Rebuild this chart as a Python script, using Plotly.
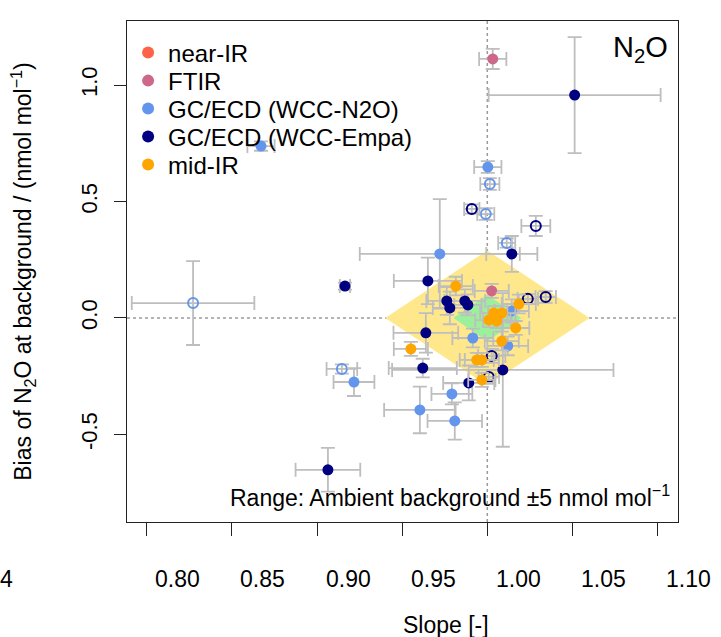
import plotly.graph_objects as go

# ---------------- data ----------------
# FTIR (filled)
ftir_x = [1.0032, 1.0026]
ftir_y = [1.112, 0.116]
ftir_xe = [0.008, 0.010]
ftir_ye = [0.043, 0.030]

# GC/ECD (WCC-N2O) filled
n2o_x = [0.8671, 1.0003, 0.9721, 1.0144, 0.9915, 1.0120, 0.9217, 0.9792, 0.9604, 0.9809]
n2o_y = [0.738, 0.648, 0.275, 0.030, -0.086, -0.120, -0.275, -0.326, -0.395, -0.442]
n2o_xe = [0.008, 0.008, 0.047, 0.010, 0.012, 0.012, 0.012, 0.012, 0.021, 0.016]
n2o_ye = [0.020, 0.025, 0.235, 0.050, 0.040, 0.040, 0.060, 0.045, 0.100, 0.080]

# GC/ECD (WCC-N2O) open
n2o_open_x = [0.8272, 1.0015, 0.9991, 1.0114, 0.9146]
n2o_open_y = [0.064, 0.575, 0.446, 0.322, -0.219]
n2o_open_xe = [0.036, 0.0056, 0.005, 0.005, 0.009]
n2o_open_ye = [0.180, 0.025, 0.025, 0.020, 0.020]

# GC/ECD (WCC-Empa) filled
empa_x = [1.0513, 1.0144, 0.9651, 0.9164, 0.9762, 0.9780, 0.9868, 0.9886,
          0.9639, 0.9621, 1.0091, 0.9891, 0.9064]
empa_y = [0.957, 0.275, 0.159, 0.137, 0.073, 0.043, 0.073, 0.056,
          -0.064, -0.215, -0.223, -0.279, -0.652]
empa_xe = [0.0505, 0.015, 0.020, 0.003, 0.012, 0.010, 0.012, 0.008,
           0.019, 0.020, 0.065, 0.015, 0.019]
empa_ye = [0.249, 0.077, 0.100, 0.015, 0.060, 0.070, 0.050, 0.045,
           0.085, 0.040, 0.330, 0.075, 0.094]

# GC/ECD (WCC-Empa) open
empa_open_x = [0.9909, 1.0285, 1.0238, 1.0343, 1.0026, 1.0009]
empa_open_y = [0.468, 0.395, 0.082, 0.090, -0.163, -0.253]
empa_open_xe = [0.0045, 0.0085, 0.006, 0.006, 0.008, 0.006]
empa_open_ye = [0.020, 0.043, 0.020, 0.025, 0.030, 0.030]

# mid-IR
mir_x = [0.9815, 1.0185, 1.0038, 1.0085, 1.0009, 1.0056, 1.0167, 1.0085,
         0.9551, 0.9938, 0.9968, 0.9968]
mir_y = [0.137, 0.060, 0.021, 0.021, -0.009, -0.013, -0.043, -0.099,
         -0.133, -0.180, -0.180, -0.266]
mir_xe = [0.010, 0.010, 0.008, 0.008, 0.008, 0.008, 0.008, 0.010,
          0.010, 0.010, 0.010, 0.008]
mir_ye = [0.040, 0.040, 0.030, 0.030, 0.030, 0.030, 0.030, 0.040,
          0.030, 0.030, 0.030, 0.030]

# compatibility goal regions (slope tolerance, bias tolerance)
extended_goal = (0.06, 0.29)
strict_goal = (0.02, 0.10)

x_ticks = [0.80, 0.85, 0.90, 0.95, 1.00, 1.05, 1.10]
x_tick_text = ["0.80", "0.85", "0.90", "0.95", "1.00", "1.05", "1.10"]
y_ticks = [-0.5, 0.0, 0.5, 1.0]
y_tick_text = ["-0.5", "0.0", "0.5", "1.0"]

X_RANGE = [0.7884, 1.112]
Y_RANGE = [-0.876, 1.275]

# ---------------- styles ----------------
C_NIR = "#FF6347"
C_FTIR = "#CD6889"
C_N2O = "#6495ED"
C_EMPA = "#000080"
C_MIR = "#FFA500"
C_ERR = "#BEBEBE"
FONT = "Liberation Sans, Arial, Helvetica, sans-serif"
LEGEND_ROWS = [0.9361, 0.8802, 0.8244, 0.7685, 0.7126]

fig = go.Figure()


def diamond_path(tol):
    dx, dy = tol
    return f"M {1-dx} 0 L 1 {dy} L {1+dx} 0 L 1 {-dy} Z"


fig.add_shape(type="path", path=diamond_path(extended_goal), xref="x", yref="y",
              fillcolor="#FFE88C", line=dict(width=0), layer="below")
fig.add_shape(type="path", path=diamond_path(strict_goal), xref="x", yref="y",
              fillcolor="#9CF09C", line=dict(width=0), layer="below")
fig.add_hline(y=0, line=dict(color="#9A9A9A", width=1.5, dash="dot"), layer="below")
fig.add_vline(x=1, line=dict(color="#9A9A9A", width=1.5, dash="dot"), layer="below")


def err(vals):
    return dict(type="data", array=vals, visible=True, color=C_ERR,
                thickness=1.8, width=7)


def add_group(name, x, y, xe, ye, color, legend_id, open_=False, legend=True):
    marker = (dict(symbol="circle-open", size=10, color=color, line=dict(width=2, color=color))
              if open_ else dict(symbol="circle", size=11, color=color))
    fig.add_trace(go.Scatter(
        x=x, y=y, mode="markers", name=name, marker=marker,
        error_x=err(xe), error_y=err(ye), showlegend=legend,
        legend=legend_id, legendgroup=name,
    ))


fig.add_trace(go.Scatter(x=[None], y=[None], mode="markers", name="near-IR",
                         marker=dict(symbol="circle", size=11, color=C_NIR),
                         legend="legend", legendgroup="near-IR"))
add_group("FTIR", ftir_x, ftir_y, ftir_xe, ftir_ye, C_FTIR, "legend2")
add_group("GC/ECD (WCC-N2O)", n2o_open_x, n2o_open_y, n2o_open_xe, n2o_open_ye, C_N2O,
          "legend3", open_=True, legend=False)
add_group("GC/ECD (WCC-N2O)", n2o_x, n2o_y, n2o_xe, n2o_ye, C_N2O, "legend3")
add_group("GC/ECD (WCC-Empa)", empa_open_x, empa_open_y, empa_open_xe, empa_open_ye, C_EMPA,
          "legend4", open_=True, legend=False)
add_group("GC/ECD (WCC-Empa)", empa_x, empa_y, empa_xe, empa_ye, C_EMPA, "legend4")
add_group("mid-IR", mir_x, mir_y, mir_xe, mir_ye, C_MIR, "legend5")

# x tick labels (offset to the right of the tick marks, as in the reference)
TICK_FONT = dict(size=23, color="black", family=FONT)
annotations = []
for v, t in zip(x_ticks, x_tick_text):
    annotations.append(dict(x=v, y=0, xref="x", yref="paper", text=t, showarrow=False,
                            xanchor="center", yanchor="middle", xshift=31, yshift=-57,
                            font=TICK_FONT))
annotations += [
    dict(x=-0.235, y=0, xref="paper", yref="paper", text="4", showarrow=False,
         xanchor="left", yanchor="middle", yshift=-57, font=TICK_FONT),
    dict(x=0.5, y=0, xref="paper", yref="paper", text="Slope [-]", showarrow=False,
         xanchor="center", yanchor="middle", xshift=43, yshift=-103,
         font=dict(size=23, color="black", family=FONT)),
    dict(x=0.985, y=0.985, xref="paper", yref="paper", text="N<sub>2</sub>O",
         showarrow=False, xanchor="right", yanchor="top",
         font=dict(size=29, color="black", family=FONT)),
    dict(x=0.99, y=0.018, xref="paper", yref="paper",
         text="Range: Ambient background ±5 nmol mol<sup>−1</sup>",
         showarrow=False, xanchor="right", yanchor="bottom",
         font=dict(size=23, color="black", family=FONT)),
]

legend_style = dict(x=0.002, xanchor="left", yanchor="middle",
                    bgcolor="rgba(0,0,0,0)", borderwidth=0,
                    font=dict(size=24, family=FONT, color="black"),
                    itemsizing="constant")
legends = {}
for i, ypos in enumerate(LEGEND_ROWS):
    key = "legend" if i == 0 else f"legend{i+1}"
    legends[key] = dict(legend_style, y=ypos)

fig.update_layout(
    width=721, height=637,
    margin=dict(l=127, r=43, t=21, b=115),
    paper_bgcolor="white", plot_bgcolor="white",
    font=dict(family=FONT, size=22, color="black"),
    showlegend=True,
    annotations=annotations,
    xaxis=dict(range=X_RANGE, tickvals=x_ticks, showticklabels=False,
               ticks="outside", ticklen=13, tickcolor="#222", tickwidth=1.3,
               showline=True, linecolor="#222", linewidth=1.3, mirror=True,
               showgrid=False, zeroline=False),
    yaxis=dict(range=Y_RANGE, tickvals=y_ticks, ticktext=y_tick_text, tickangle=-90,
               ticks="outside", ticklen=12, tickcolor="#222", tickwidth=1.3,
               showline=True, linecolor="#222", linewidth=1.3, mirror=True,
               showgrid=False, zeroline=False, tickfont=dict(size=22, family=FONT),
               ticklabelstandoff=8,
               title=dict(text="Bias of N<sub>2</sub>O at background / (nmol mol<sup>−1</sup>)",
                          font=dict(size=23, family=FONT), standoff=38)),
    **legends,
)

fig.write_html("out.html")
